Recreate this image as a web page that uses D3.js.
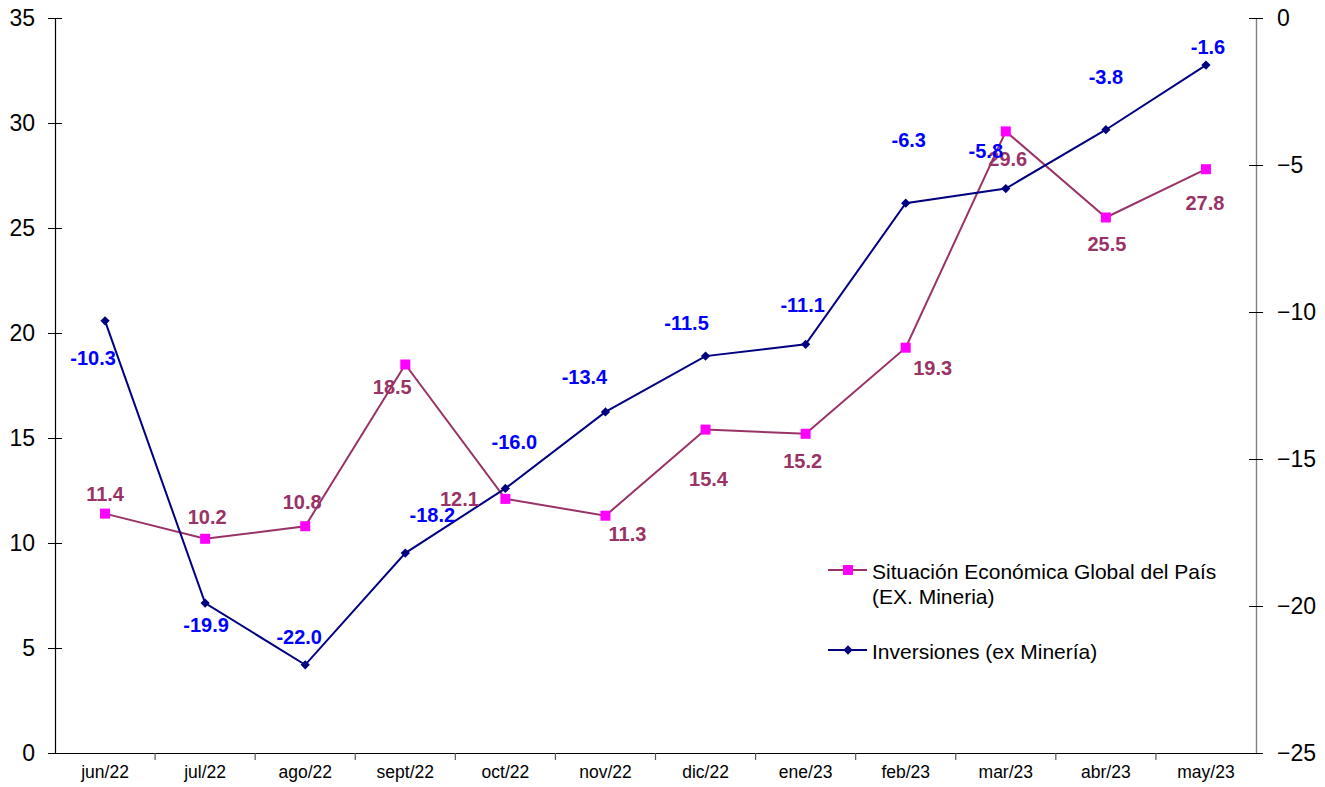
<!DOCTYPE html>
<html><head><meta charset="utf-8">
<script src="https://cdn.jsdelivr.net/npm/d3@7"></script>
<style>body{margin:0;background:#fff;} svg{display:block;font-family:"Liberation Sans",Arial,sans-serif;}</style>
</head><body>
<svg id="c" width="1325" height="787"></svg>
<script>
const categories = ["jun/22","jul/22","ago/22","sept/22","oct/22","nov/22","dic/22","ene/23","feb/23","mar/23","abr/23","may/23"];
const situacion = [11.4,10.2,10.8,18.5,12.1,11.3,15.4,15.2,19.3,29.6,25.5,27.8];
const inversiones = [-10.3,-19.9,-22.0,-18.2,-16.0,-13.4,-11.5,-11.1,-6.3,-5.8,-3.8,-1.6];
const leftTicks = [0,5,10,15,20,25,30,35];
const rightTicks = [0,-5,-10,-15,-20,-25];
const seriesNames = ["Situación Económica Global del País", "(EX. Mineria)", "Inversiones (ex Minería)"];
// label offsets (pixels) relative to each point
const sitOffsets = [[0,-20],[2,-22],[-3,-24],[-13,22],[-46,0],[22,18],[3,49],[-3,27],[27,20],[2,28],[1,26],[-1,34]];
const invOffsets = [[-12,37],[1,22],[-6,-28],[27,-38],[9,-46],[-21,-35],[-19,-33],[-3,-39],[3,-63],[-20,-38],[0,-53],[2,-18]];

const svg = d3.select("#c");
const L = 55, R = 1256, T = 18, B = 753;
const FONT = "Liberation Sans, Arial, sans-serif";
const x = d3.scaleBand().domain(categories).range([L, R]);
const yL = d3.scaleLinear().domain([0,35]).range([B,T]);
const yR = d3.scaleLinear().domain([-25,0]).range([B,T]);
const cx = c => x(c) + x.bandwidth()/2;

// left axis
const gL = svg.append("g").attr("transform",`translate(${L},0)`)
  .call(d3.axisLeft(yL).tickValues(leftTicks).tickSize(7).tickPadding(13).tickSizeOuter(0));
gL.select(".domain").attr("stroke","#000").attr("stroke-width",1.2);
gL.selectAll(".tick line").attr("x2",7).attr("x1",-7).attr("stroke","#000");
gL.selectAll(".tick text").attr("font-size",23).attr("fill","#000").attr("font-family",FONT);

// right axis
const gR = svg.append("g").attr("transform",`translate(${R},0)`)
  .call(d3.axisRight(yR).tickValues(rightTicks).tickSize(7).tickPadding(14).tickSizeOuter(0));
gR.select(".domain").attr("stroke","#808080").attr("stroke-width",1.4);
gR.selectAll(".tick line").attr("x1",-7).attr("x2",7).attr("stroke","#000");
gR.selectAll(".tick text").attr("font-size",23).attr("fill","#000").attr("font-family",FONT);

// x axis
const gX = svg.append("g").attr("transform",`translate(0,${B})`)
  .call(d3.axisBottom(x).tickSize(0).tickPadding(13).tickSizeOuter(0));
gX.select(".domain").attr("stroke","#000").attr("stroke-width",1.2);
gX.selectAll(".tick text").attr("font-size",17.5).attr("fill","#000").attr("font-family",FONT);
svg.append("g").selectAll("line").data(categories.slice(1)).join("line")
  .attr("x1",d=>x(d)).attr("x2",d=>x(d)).attr("y1",B).attr("y2",B+7)
  .attr("stroke","#555").attr("stroke-width",1.2);

// Situación line
const lineL = d3.line().x((d,i)=>cx(categories[i])).y(d=>yL(d));
svg.append("path").datum(situacion).attr("d",lineL).attr("fill","none")
  .attr("stroke","#993366").attr("stroke-width",2);
svg.append("g").selectAll("rect").data(situacion).join("rect")
  .attr("x",(d,i)=>cx(categories[i])-5).attr("y",d=>yL(d)-5)
  .attr("width",10).attr("height",10).attr("fill","#ff00ff");

// Inversiones line
const lineR = d3.line().x((d,i)=>cx(categories[i])).y(d=>yR(d));
svg.append("path").datum(inversiones).attr("d",lineR).attr("fill","none")
  .attr("stroke","#000080").attr("stroke-width",2);
const diamond = d3.symbol().type(d3.symbolDiamond2 || d3.symbolDiamond).size(55);
svg.append("g").selectAll("path").data(inversiones).join("path")
  .attr("d",diamond)
  .attr("transform",(d,i)=>`translate(${cx(categories[i])},${yR(d)})`)
  .attr("fill","#000080");

// labels
svg.append("g").selectAll("text").data(situacion).join("text")
  .attr("x",(d,i)=>cx(categories[i])+sitOffsets[i][0])
  .attr("y",(d,i)=>yL(d)+sitOffsets[i][1])
  .attr("text-anchor","middle").attr("dominant-baseline","central")
  .attr("font-size",20).attr("font-weight","bold").attr("fill","#993366")
  .text(d=>d.toFixed(1));
svg.append("g").selectAll("text").data(inversiones).join("text")
  .attr("x",(d,i)=>cx(categories[i])+invOffsets[i][0])
  .attr("y",(d,i)=>yR(d)+invOffsets[i][1])
  .attr("text-anchor","middle").attr("dominant-baseline","central")
  .attr("font-size",20).attr("font-weight","bold").attr("fill","#0000ff")
  .text(d=>d.toFixed(1));

// legend
const lg = svg.append("g");
lg.append("line").attr("x1",828).attr("x2",867).attr("y1",570).attr("y2",570).attr("stroke","#993366").attr("stroke-width",2);
lg.append("rect").attr("x",843).attr("y",565).attr("width",10).attr("height",10).attr("fill","#ff00ff");
lg.append("text").attr("x",872).attr("y",571).attr("dominant-baseline","central").attr("font-size",21).attr("fill","#000").text(seriesNames[0]);
lg.append("text").attr("x",872).attr("y",596).attr("dominant-baseline","central").attr("font-size",21).attr("fill","#000").text(seriesNames[1]);
lg.append("line").attr("x1",828).attr("x2",867).attr("y1",650).attr("y2",650).attr("stroke","#000080").attr("stroke-width",2);
lg.append("path").attr("d",diamond).attr("transform","translate(848,650)").attr("fill","#000080");
lg.append("text").attr("x",872).attr("y",651).attr("dominant-baseline","central").attr("font-size",21).attr("fill","#000").text(seriesNames[2]);
</script>
</body></html>
